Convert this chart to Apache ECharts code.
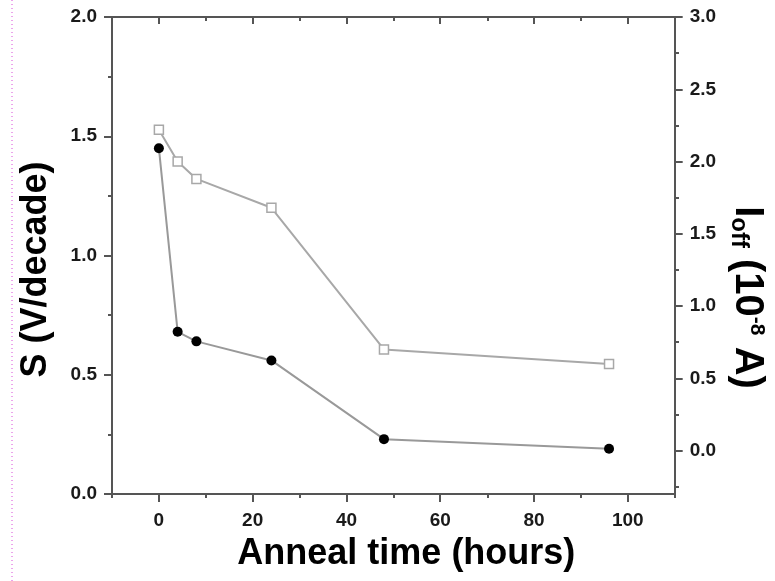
<!DOCTYPE html>
<html>
<head>
<meta charset="utf-8">
<title>Anneal time</title>
<script src="https://cdn.jsdelivr.net/npm/echarts@6.0.0/dist/echarts.min.js"></script>
<style>
  html, body { margin: 0; padding: 0; background: #fff; }
  #chart { width: 775px; height: 581px; }
</style>
</head>
<body>
<div id="chart"></div>
<script>
// data
var hours = [0, 4, 8, 24, 48, 96];
var sValues = [1.45, 0.68, 0.64, 0.56, 0.23, 0.19];      // S (V/decade), left axis
var ioffValues = [2.22, 2.0, 1.88, 1.68, 0.70, 0.60];    // Ioff (1e-8 A), right axis

// tick positions / labels
var xMajor = [0, 20, 40, 60, 80, 100];
var xMinor = [-10, 10, 30, 50, 70, 90, 110];
var ioffMajor = [0, 0.5, 1.0, 1.5, 2.0, 2.5, 3.0];
var ioffMinor = [-0.25, 0.25, 0.75, 1.25, 1.75, 2.25, 2.75];

var axisColor = '#555';
var font = "'Liberation Sans', Arial, sans-serif";

var chart = echarts.init(document.getElementById('chart'));

function pairs(xs, ys) {
    return xs.map(function (x, i) { return [x, ys[i]]; });
}

var labelStyle = {
    fontFamily: font,
    fontSize: 19,
    fontWeight: 'bold',
    color: '#1a1a1a'
};

var gridBox = { left: 112, top: 17, right: 100, bottom: 87 };

chart.setOption({
    animation: false,
    grid: [
        Object.assign({}, gridBox),
        Object.assign({}, gridBox)   // second grid only carries minor ticks
    ],
    xAxis: [
        {
            gridIndex: 0, type: 'value', position: 'bottom',
            min: -10, max: 110,
            name: 'Anneal time (hours)',
            nameLocation: 'middle',
            nameGap: 42,
            nameTextStyle: {
                fontFamily: font, fontSize: 36, fontWeight: 'bold', color: '#000',
                padding: [0, 0, 0, 26]
            },
            axisLine: { onZero: false, lineStyle: { color: axisColor, width: 2 } },
            axisTick: { customValues: xMajor, length: 8, lineStyle: { color: axisColor, width: 2 } },
            axisLabel: Object.assign({ customValues: xMajor, margin: 17 }, labelStyle),
            splitLine: { show: false }
        },
        {
            gridIndex: 0, type: 'value', position: 'top',
            min: -10, max: 110,
            axisLine: { onZero: false, lineStyle: { color: axisColor, width: 2 } },
            axisTick: { customValues: xMajor, inside: true, length: 7, lineStyle: { color: axisColor, width: 2 } },
            axisLabel: { show: false },
            splitLine: { show: false }
        },
        {
            gridIndex: 1, type: 'value', position: 'bottom',
            min: -10, max: 110,
            axisLine: { show: false, onZero: false },
            axisTick: { customValues: xMinor, length: 4, lineStyle: { color: axisColor, width: 2 } },
            axisLabel: { show: false },
            splitLine: { show: false }
        },
        {
            gridIndex: 1, type: 'value', position: 'top',
            min: -10, max: 110,
            axisLine: { show: false, onZero: false },
            axisTick: { customValues: xMinor, inside: true, length: 4, lineStyle: { color: axisColor, width: 2 } },
            axisLabel: { show: false },
            splitLine: { show: false }
        }
    ],
    yAxis: [
        {
            gridIndex: 0, type: 'value', position: 'left',
            min: 0, max: 2, interval: 0.5,
            name: 'S (V/decade)',
            nameLocation: 'middle',
            nameGap: 58,
            nameRotate: 90,
            nameTextStyle: {
                fontFamily: font, fontSize: 36, fontWeight: 'bold', color: '#000',
                padding: [0, 28, 0, 0]
            },
            axisLine: { show: true, onZero: false, lineStyle: { color: axisColor, width: 2 } },
            axisTick: { show: true, length: 8, lineStyle: { color: axisColor, width: 2 } },
            minorTick: { show: true, splitNumber: 2, length: 4, lineStyle: { color: axisColor, width: 2 } },
            axisLabel: Object.assign({
                margin: 15,
                formatter: function (v) { return v.toFixed(1); }
            }, labelStyle),
            splitLine: { show: false }
        },
        {
            gridIndex: 0, type: 'value', position: 'right',
            min: -0.3, max: 3,
            name: '{b|I}{sub|off}{b| (10}{sup|-8}{b| A)}',
            nameLocation: 'middle',
            nameGap: 52,
            nameRotate: -90,
            nameTextStyle: {
                fontFamily: font, fontSize: 40, fontWeight: 'bold', color: '#000',
                padding: [0, 0, 0, 84],
                rich: {
                    b: { fontFamily: font, fontSize: 40, fontWeight: 'bold', color: '#000' },
                    sub: { fontFamily: font, fontSize: 24, fontWeight: 'bold', color: '#000', verticalAlign: 'bottom' },
                    sup: { fontFamily: font, fontSize: 21, fontWeight: 'bold', color: '#000', verticalAlign: 'top' }
                }
            },
            axisLine: { show: true, onZero: false, lineStyle: { color: axisColor, width: 2 } },
            axisTick: { show: true, customValues: ioffMajor, length: 8, lineStyle: { color: axisColor, width: 2 } },
            axisLabel: Object.assign({
                customValues: ioffMajor,
                margin: 15,
                formatter: function (v) { return v.toFixed(1); }
            }, labelStyle),
            splitLine: { show: false }
        },
        {
            gridIndex: 1, type: 'value', position: 'right',
            min: -0.3, max: 3,
            axisLine: { show: false, onZero: false },
            axisTick: { show: true, customValues: ioffMinor, length: 4, lineStyle: { color: axisColor, width: 2 } },
            axisLabel: { show: false },
            splitLine: { show: false }
        }
    ],
    graphic: [
        {
            // dotted guide at the left edge of the picture
            type: 'line',
            shape: { x1: 12, y1: 0, x2: 12, y2: 581 },
            style: { stroke: '#d94bd9', lineWidth: 1, lineDash: [1, 3] }
        }
    ],
    series: [
        {
            name: 'Ioff',
            type: 'line',
            xAxisIndex: 0, yAxisIndex: 1,
            data: pairs(hours, ioffValues),
            symbol: 'rect',
            symbolSize: 9,
            lineStyle: { color: '#a8a8a8', width: 2 },
            itemStyle: { color: '#fff', borderColor: '#a8a8a8', borderWidth: 1.5 },
            z: 3
        },
        {
            name: 'S',
            type: 'line',
            xAxisIndex: 0, yAxisIndex: 0,
            data: pairs(hours, sValues),
            symbol: 'circle',
            symbolSize: 10,
            lineStyle: { color: '#999', width: 2 },
            itemStyle: { color: '#000', borderColor: '#000', borderWidth: 0 },
            z: 4
        }
    ]
});
</script>
</body>
</html>
